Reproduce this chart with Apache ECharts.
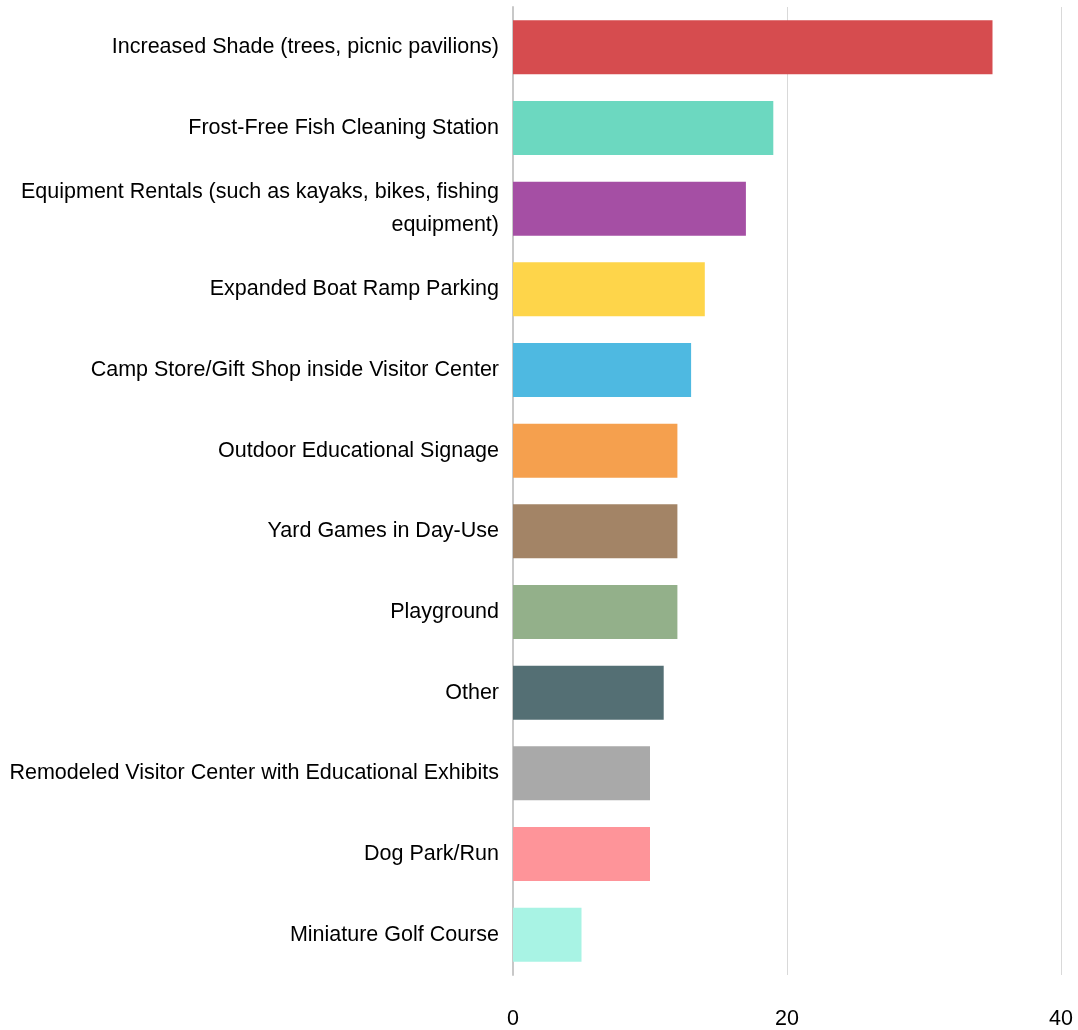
<!DOCTYPE html>
<html>
<head>
<meta charset="utf-8">
<script src="https://cdn.jsdelivr.net/npm/echarts@6/dist/echarts.min.js"></script>
<style>
  html, body { margin: 0; padding: 0; background: #ffffff; }
  #chart { width: 1078px; height: 1030px; }
</style>
</head>
<body>
<div id="chart"></div>
<script>
// Requested amenities, listed top to bottom
const categories = [
  'Increased Shade (trees, picnic pavilions)',
  'Frost-Free Fish Cleaning Station',
  'Equipment Rentals (such as kayaks, bikes, fishing equipment)',
  'Expanded Boat Ramp Parking',
  'Camp Store/Gift Shop inside Visitor Center',
  'Outdoor Educational Signage',
  'Yard Games in Day-Use',
  'Playground',
  'Other',
  'Remodeled Visitor Center with Educational Exhibits',
  'Dog Park/Run',
  'Miniature Golf Course'
];
const counts = [35, 19, 17, 14, 13, 12, 12, 12, 11, 10, 10, 5];
const barColors = [
  '#d64c4f', '#6cd8c0', '#a54fa4', '#fed54a', '#4eb9e1', '#f5a04e',
  '#a38466', '#93b08a', '#546f74', '#a9a9a9', '#fe9499', '#a8f3e4'
];
const xTicks = [0, 20, 40];

const FONT = "'Liberation Sans', Arial, sans-serif";
const LABEL_SIZE = 21.5;
const LABEL_MAX_WIDTH = 495;

// Word-wrap a category label so each line fits the space left of the axis
const measureCtx = document.createElement('canvas').getContext('2d');
measureCtx.font = LABEL_SIZE + 'px ' + FONT;
function wrapLabel(text) {
  const words = text.split(' ');
  const lines = [];
  let line = '';
  words.forEach(w => {
    const trial = line ? line + ' ' + w : w;
    if (line && measureCtx.measureText(trial).width > LABEL_MAX_WIDTH) {
      lines.push(line);
      line = w;
    } else {
      line = trial;
    }
  });
  if (line) lines.push(line);
  return lines.join('\n');
}

const chart = echarts.init(document.getElementById('chart'));
chart.setOption({
  animation: false,
  grid: { left: 513, right: 17, top: 7, bottom: 55, containLabel: false, outerBoundsMode: 'none' },
  xAxis: {
    type: 'value',
    min: xTicks[0],
    max: xTicks[xTicks.length - 1],
    interval: xTicks[1] - xTicks[0],
    axisLine: { show: false },
    axisTick: { show: false },
    splitLine: { show: true, lineStyle: { color: '#d9d9d9', width: 1 } },
    axisLabel: {
      color: '#000000',
      fontFamily: FONT,
      fontSize: LABEL_SIZE,
      margin: 33
    }
  },
  yAxis: {
    type: 'category',
    inverse: true,
    data: categories,
    axisLine: { show: true, lineStyle: { color: '#c8c8c8', width: 2 } },
    axisTick: { show: false },
    axisLabel: {
      color: '#000000',
      fontFamily: FONT,
      fontSize: LABEL_SIZE,
      lineHeight: 33,
      margin: 14,
      formatter: wrapLabel
    }
  },
  series: [{
    type: 'bar',
    data: counts.map((v, i) => ({ value: v, itemStyle: { color: barColors[i] } })),
    barWidth: '67%'
  }]
});
</script>
</body>
</html>
